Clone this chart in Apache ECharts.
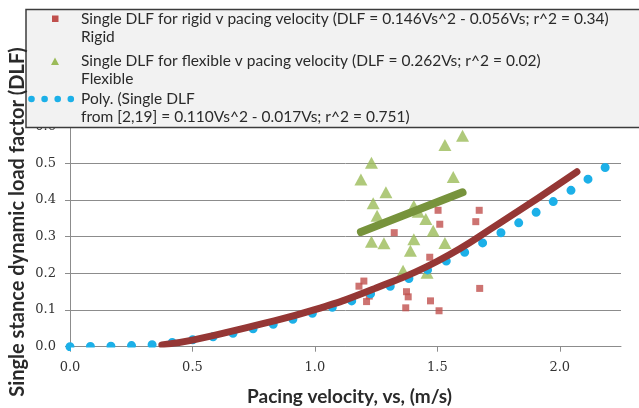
<!DOCTYPE html>
<html>
<head>
<meta charset="utf-8">
<script src="https://cdn.jsdelivr.net/npm/echarts@6/dist/echarts.min.js"></script>
<style>
  html, body { margin: 0; padding: 0; background: #ffffff; }
  #chart { width: 639px; height: 408px; }
</style>
</head>
<body>
<div id="chart"></div>
<script>
// Single-stance DLF against pacing velocity, rigid and flexible surfaces.
// [pacing velocity (m/s), DLF]
const rigidPoints = [
  [1.503, 0.372], [1.671, 0.372], [1.510, 0.334], [1.657, 0.341],
  [1.324, 0.311], [1.469, 0.244], [1.200, 0.179], [1.180, 0.165],
  [1.222, 0.138], [1.211, 0.123], [1.374, 0.150], [1.381, 0.136],
  [1.371, 0.106], [1.472, 0.125], [1.507, 0.098], [1.673, 0.159]
];
const flexiblePoints = [
  [1.603, 0.575], [1.531, 0.550], [1.231, 0.502], [1.188, 0.456],
  [1.565, 0.463], [1.290, 0.421], [1.238, 0.391], [1.404, 0.384],
  [1.422, 0.368], [1.254, 0.357], [1.453, 0.348], [1.483, 0.316],
  [1.231, 0.286], [1.282, 0.282], [1.404, 0.293], [1.390, 0.262],
  [1.531, 0.283], [1.360, 0.207], [1.458, 0.202]
];
// Fitted curves
const polyFit = [
  [0, 0], [0.25, 0.003], [0.5, 0.019], [0.75, 0.049], [1.0, 0.093],
  [1.25, 0.150], [1.5, 0.222], [1.75, 0.307], [2.0, 0.407], [2.21, 0.500]
];
const rigidFit = [
  [0.375, 0.005], [0.5, 0.018], [0.75, 0.057], [1.0, 0.101],
  [1.25, 0.160], [1.5, 0.233], [1.75, 0.335], [2.07, 0.477]
];
const flexibleFit = [[1.188, 0.313], [1.603, 0.421]];

const xTicks = [0, 0.5, 1, 1.5, 2];

const legendLines = [
  'Single DLF for rigid v pacing velocity (DLF = 0.146Vs^2 - 0.056Vs; r^2 = 0.34)',
  'Rigid',
  'Single DLF for flexible v pacing velocity (DLF = 0.262Vs; r^2 = 0.02)',
  'Flexible',
  'Poly. (Single DLF',
  'from [2,19] = 0.110Vs^2 - 0.017Vs; r^2 = 0.751)'
];
const xTitle = 'Pacing velocity, vs, (m/s)';
const yTitle = 'Single stance dynamic load factor (DLF)';

const COLORS = {
  rigid: '#c0504d',
  flexible: '#9bbb59',
  poly: '#1cb0e8',
  rigidFit: '#953735',
  flexibleFit: '#77933c'
};

const textFont = 'Lato, "Open Sans", sans-serif';
const tickFont = '"DejaVu Serif", serif';

const chart = echarts.init(document.getElementById('chart'), null, { renderer: 'canvas' });

const legendY = [18.5, 36.5, 61, 78.5, 99, 116.5];
const legendGraphics = [
  // covers the lower half of the dots that sit on the zero line (plot-area clipping)
  {
    type: 'rect', z: 50,
    shape: { x: 71, y: 347.4, width: 115, height: 5 },
    style: { fill: '#ffffff' }
  },
  {
    type: 'rect', z: 100,
    shape: { x: 26, y: 9.5, width: 640, height: 118 },
    style: { fill: '#f2f2f2', stroke: '#3c3c3c', lineWidth: 1.5 }
  },
  {
    type: 'rect', z: 101,
    shape: { x: 52, y: 15.5, width: 6.5, height: 6.5 },
    style: { fill: COLORS.rigid }
  },
  {
    type: 'polygon', z: 101,
    shape: { points: [[55, 57.5], [59, 65], [51, 65]] },
    style: { fill: COLORS.flexible }
  }
];
[31.5, 44.6, 57.7, 70.8].forEach(function (cx) {
  legendGraphics.push({
    type: 'circle', z: 101,
    shape: { cx: cx, cy: 99, r: 3.3 },
    style: { fill: COLORS.poly }
  });
});
legendLines.forEach(function (t, i) {
  legendGraphics.push({
    type: 'text', z: 101,
    x: 81, y: legendY[i],
    style: {
      text: t, fill: '#2a2a2a',
      font: '15.5px ' + textFont,
      verticalAlign: 'middle', align: 'left'
    }
  });
});
legendGraphics.push({
  type: 'text', z: 101,
  x: 17.5, y: 222, rotation: Math.PI / 2,
  style: {
    text: yTitle, fill: '#2a2a2a',
    font: 'bold 20px ' + textFont,
    align: 'center', verticalAlign: 'middle'
  }
});
legendGraphics.push({
  type: 'text', z: 101,
  x: 349.5, y: 397,
  style: {
    text: xTitle, fill: '#2a2a2a',
    font: 'bold 19px ' + textFont,
    align: 'center', verticalAlign: 'middle'
  }
});

const option = {
  animation: false,
  backgroundColor: '#ffffff',
  grid: { left: 70, right: 18, top: 126.7, bottom: 61.3, containLabel: false },
  xAxis: {
    type: 'value',
    min: 0, max: 2.25,
    axisLine: { show: true, lineStyle: { color: '#8c8c8c', width: 1 } },
    axisTick: { show: true, length: 5, lineStyle: { color: '#8c8c8c' }, customValues: xTicks },
    axisLabel: {
      customValues: xTicks,
      margin: 14,
      color: '#333333',
      fontFamily: tickFont, fontSize: 13,
      formatter: function (v) { return v.toFixed(1); }
    },
    splitLine: { show: false }
  },
  yAxis: {
    type: 'value',
    min: 0, max: 0.6, interval: 0.1,
    axisLine: { show: true, lineStyle: { color: '#8c8c8c', width: 1 } },
    axisTick: { show: true, length: 5, lineStyle: { color: '#8c8c8c' } },
    axisLabel: {
      margin: 14,
      color: '#333333',
      fontFamily: tickFont, fontSize: 13,
      formatter: function (v) { return v.toFixed(1); }
    },
    splitLine: { show: true, lineStyle: { color: '#8c8c8c', width: 1 } }
  },
  graphic: legendGraphics,
  series: [
    {
      name: 'Rigid', type: 'scatter', z: 2,
      symbol: 'rect', symbolSize: 7,
      itemStyle: { color: COLORS.rigid },
      data: rigidPoints
    },
    {
      name: 'Flexible', type: 'scatter', z: 3,
      symbol: 'triangle', symbolSize: [13, 12],
      itemStyle: { color: COLORS.flexible },
      data: flexiblePoints
    },
    {
      name: 'Poly. (Single DLF from [2,19])', type: 'line', z: 4,
      smooth: true, showSymbol: false,
      lineStyle: { color: COLORS.poly, width: 9, type: [0, 20.5], cap: 'round' },
      data: polyFit
    },
    {
      name: 'Rigid trend', type: 'line', z: 5,
      smooth: true, showSymbol: false,
      lineStyle: { color: COLORS.rigidFit, width: 7, cap: 'round' },
      data: rigidFit
    },
    {
      name: 'Flexible trend', type: 'line', z: 6,
      showSymbol: false,
      lineStyle: { color: COLORS.flexibleFit, width: 8, cap: 'round' },
      data: flexibleFit
    }
  ]
};

chart.setOption(option);
</script>
</body>
</html>
